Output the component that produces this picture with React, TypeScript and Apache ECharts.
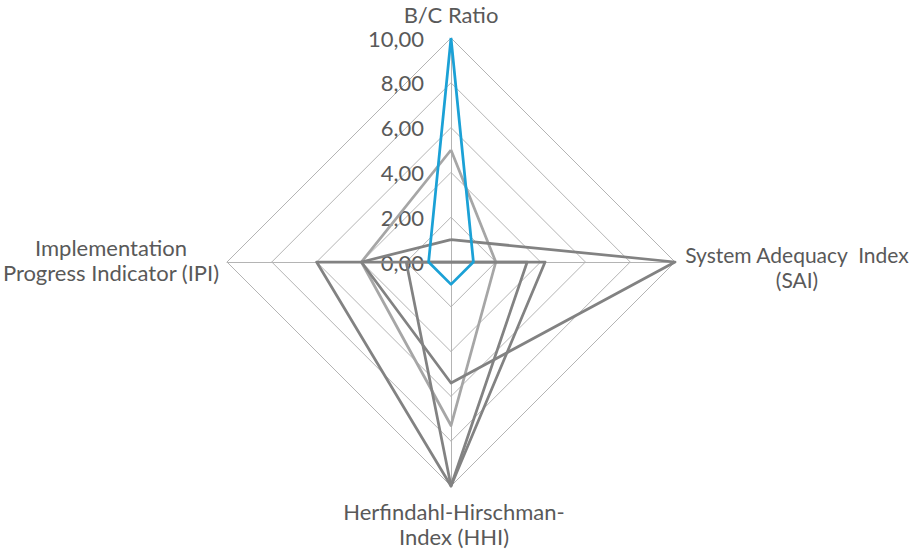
import React, { useEffect, useRef } from "react";
import * as echarts from "echarts";

// Indicators (ECharts radar goes counter-clockwise from the top)
const indicatorNames = ["B/C Ratio", "Implementation Progress Indicator (IPI)", "Herfindahl-Hirschman-Index (HHI)", "System Adequacy  Index (SAI)"];
const axisMax = 10;
const splitCount = 5;

// values in order: B/C, IPI, HHI, SAI
const seriesLight = [5, 4, 7.3, 2];
const seriesDarkB = [1, 4, 5.4, 10];
const seriesDarkC = [0, 6, 10, 3.4];
const seriesDarkD = [0, 2, 10, 4.2];
const seriesBlue = [10, 1, 1, 1];

const FONT = "Lato, 'Open Sans', sans-serif";
const TEXT = "#595959";

export default function App() {
  const ref = useRef<HTMLDivElement>(null);
  useEffect(() => {
    if (!ref.current) return;
    const chart = echarts.init(ref.current, undefined, { renderer: "svg" });
    const lineSeries = (name: string, value: number[], color: string, width: number) => ({
      value,
      name,
      symbol: "none",
      lineStyle: { color, width },
      itemStyle: { color },
    });
    chart.setOption({
      animation: false,
      backgroundColor: "#ffffff",
      textStyle: { fontFamily: FONT },
      radar: {
        center: [451, 262],
        radius: 224,
        startAngle: 90,
        splitNumber: splitCount,
        shape: "polygon",
        axisName: { show: false },
        indicator: indicatorNames.map((n, i) =>
          i === 0
            ? { name: n, min: 0, max: axisMax }
            : { name: n, min: 0, max: axisMax, axisLabel: { show: false } }
        ),
        axisLine: { lineStyle: { color: "#b4b4b4", width: 1 } },
        splitLine: { lineStyle: { color: "#b4b4b4", width: 1 } },
        splitArea: { show: false },
        axisTick: { show: false },
        axisLabel: {
          show: true,
          color: TEXT,
          fontSize: 22,
          fontFamily: FONT,
          margin: 27,
          formatter: (v: number) => v.toFixed(2).replace(".", ","),
        },
      },
      series: [
        {
          type: "radar",
          silent: true,
          data: [
            lineSeries("S1", seriesLight, "#a6a6a6", 2.75),
            lineSeries("S2", seriesDarkB, "#828282", 2.75),
            lineSeries("S3", seriesDarkC, "#828282", 2.75),
            lineSeries("S4", seriesDarkD, "#828282", 2.75),
            lineSeries("S5", seriesBlue, "#1ba1d6", 2.75),
          ],
        },
      ],
      graphic: [
        { type: "text", x: 451, y: 14, style: { text: "B/C Ratio", align: "center", verticalAlign: "middle", fontSize: 22, fontFamily: FONT, fill: TEXT } },
        { type: "text", x: 797, y: 267, style: { text: "System Adequacy  Index\n(SAI)", align: "center", verticalAlign: "middle", lineHeight: 25, fontSize: 21, fontFamily: FONT, fill: TEXT } },
        { type: "text", x: 111, y: 260, style: { text: "Implementation\nProgress Indicator (IPI)", align: "center", verticalAlign: "middle", lineHeight: 25, fontSize: 22, fontFamily: FONT, fill: TEXT } },
        { type: "text", x: 454, y: 524, style: { text: "Herfindahl-Hirschman-\nIndex (HHI)", align: "center", verticalAlign: "middle", lineHeight: 25, fontSize: 22, fontFamily: FONT, fill: TEXT } },
      ],
    });
    return () => chart.dispose();
  }, []);
  return <div ref={ref} style={{ position: "fixed", left: 0, top: 0, width: 915, height: 552 }} />;
}
